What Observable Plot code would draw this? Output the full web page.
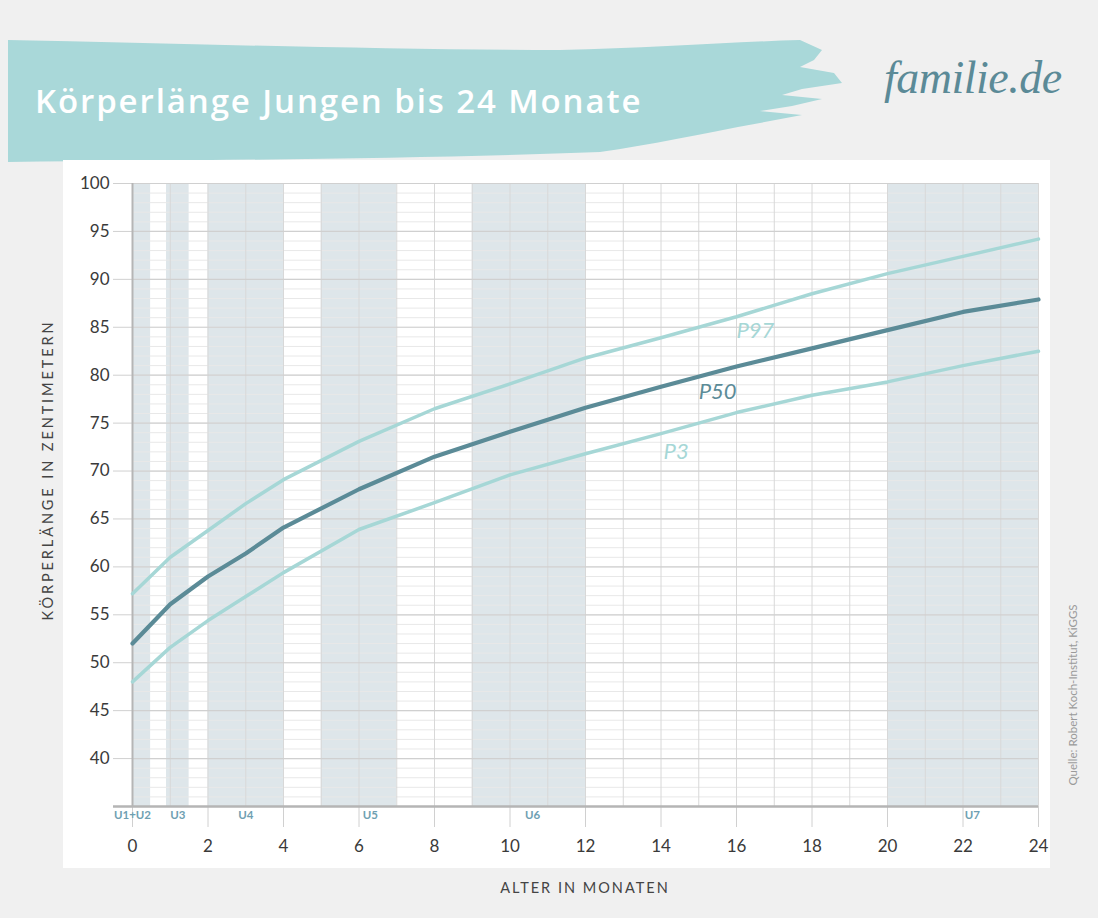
<!DOCTYPE html>
<html>
<head>
<meta charset="utf-8">
<script src="https://cdn.jsdelivr.net/npm/d3@7"></script>
<script src="https://cdn.jsdelivr.net/npm/@observablehq/plot@0.6"></script>
<style>
  html, body { margin: 0; padding: 0; background: #f0f0f0; }
  #page { position: relative; width: 1098px; height: 918px; overflow: hidden; background: #f0f0f0; font-family: Lato, "Open Sans", sans-serif; }
  #banner { position: absolute; left: 0; top: 0; }
  #title { position: absolute; left: 35px; top: 79px; font-family: "Open Sans", sans-serif; font-weight: 600; font-size: 33px; line-height: 44px; letter-spacing: 1.9px; color: #ffffff; white-space: nowrap; }
  #logo { position: absolute; left: 884px; top: 50px; font-family: "Liberation Serif", serif; font-style: italic; font-weight: normal; font-size: 46px; line-height: 56px; color: #5b8a97; letter-spacing: -0.5px; white-space: nowrap; }
  #panel { position: absolute; left: 63px; top: 160px; width: 987px; height: 708px; background: #ffffff; }
  #chart { position: absolute; left: 0; top: 0; }
  #ylabel { position: absolute; left: 47px; top: 470px; transform: translate(-50%, -50%) rotate(-90deg); font-size: 14.5px; letter-spacing: 2.9px; color: #444; white-space: nowrap; }
  #xlabel { position: absolute; left: 585px; top: 887px; transform: translate(-50%, -50%); font-size: 14.5px; letter-spacing: 2px; color: #444; white-space: nowrap; }
  #source { position: absolute; left: 1072px; top: 695px; transform: translate(-50%, -50%) rotate(-90deg); font-size: 11.5px; color: #9a9a9a; white-space: nowrap; }
</style>
</head>
<body>
<div id="page">
  <svg id="banner" width="1098" height="180">
    <path d="M8,40 C200,44 400,50 560,50 C650,48 730,42 800,40 L822,50 L814,60 L800,67 L834,73 L842,83 L802,89 L782,95 L822,99 L792,106 L760,111 L802,115 L760,123 C700,134 650,145 600,152 C450,158 250,160 8,162 Z" fill="#a9d8d9"/>
  </svg>
  <div id="title">Körperlänge Jungen bis 24 Monate</div>
  <div id="logo">familie.de</div>
  <div id="panel"></div>
  <div id="chart"></div>
  <div id="ylabel">KÖRPERLÄNGE IN ZENTIMETERN</div>
  <div id="xlabel">ALTER IN MONATEN</div>
  <div id="source">Quelle: Robert Koch-Institut, KiGGS</div>
</div>
<script>
// Age in months
const months = [0, 1, 2, 3, 4, 6, 8, 10, 12, 14, 16, 18, 20, 22, 24];
// Percentile body lengths (cm)
const p3  = [48.0, 51.6, 54.4, 56.9, 59.4, 63.9, 66.7, 69.6, 71.8, 73.9, 76.1, 77.9, 79.3, 81.0, 82.5];
const p50 = [52.0, 56.1, 59.0, 61.4, 64.1, 68.1, 71.5, 74.1, 76.6, 78.8, 80.9, 82.8, 84.7, 86.6, 87.9];
const p97 = [57.2, 61.0, 63.8, 66.6, 69.1, 73.1, 76.5, 79.1, 81.8, 83.9, 86.1, 88.5, 90.6, 92.4, 94.2];

// U-examination periods (months)
const uNames = ["U1+U2", "U3", "U4", "U5", "U6", "U7"];
const uStart = [0, 0.9, 2, 5, 9, 20];
const uEnd   = [0.48, 1.5, 4, 7, 12, 24];
const uLabelX = [0, 1.2, 3, 6.3, 10.6, 22.25];

// Percentile labels
const pNames = ["P97", "P50", "P3"];
const pLabelX = [16.5, 15.5, 14.4];
const pLabelY = [84.6, 78.2, 72.0];

const xTicks = d3.range(0, 25, 2);
const xGrid = d3.range(0, 25, 1);
const yTicks = d3.range(40, 101, 5);
const yMinor = d3.range(36, 101, 1);

const bands = uNames.map((n, i) => ({name: n, x1: uStart[i], x2: uEnd[i], lx: uLabelX[i]}));
const series = [];
months.forEach((m, i) => {
  series.push({month: m, value: p3[i], key: "P3"});
  series.push({month: m, value: p97[i], key: "P97"});
  series.push({month: m, value: p50[i], key: "P50"});
});
const pLabels = pNames.map((n, i) => ({name: n, x: pLabelX[i], y: pLabelY[i]}));

const chart = Plot.plot({
  width: 1098,
  height: 918,
  marginLeft: 132,
  marginRight: 60,
  marginTop: 183,
  marginBottom: 112,
  x: {domain: [0, 24]},
  y: {domain: [35, 100]},
  style: {background: "transparent", fontFamily: "Lato, 'Open Sans', sans-serif", color: "#444"},
  marks: [
    Plot.rect(bands, {x1: "x1", x2: "x2", fill: "#dee6ea"}),
    Plot.gridY({ticks: yMinor, stroke: "#e8e8e8", strokeOpacity: 1, strokeWidth: 1}),
    Plot.gridX({ticks: xGrid, stroke: "#d8d8d8", strokeOpacity: 1, strokeWidth: 1}),
    Plot.gridY({ticks: yTicks, stroke: "#d0d0d0", strokeOpacity: 1, strokeWidth: 1.2}),
    Plot.axisY({ticks: yTicks, tickSize: 19, tickPadding: 4, stroke: "#d0d0d0", fill: "#3a3a3a", fontSize: 17, label: null}),
    Plot.axisX({ticks: xTicks, tickSize: 21, tickPadding: 12, stroke: "#d0d0d0", fill: "#3a3a3a", fontSize: 17, label: null}),
    Plot.ruleX([0], {stroke: "#b5b5b5", strokeWidth: 2}),
    Plot.ruleY([35], {stroke: "#b5b5b5", strokeWidth: 2.5, insetLeft: -19}),
    Plot.line(series.filter(d => d.key !== "P50"), {x: "month", y: "value", z: "key", stroke: "#a6d7d6", strokeWidth: 3.5}),
    Plot.line(series.filter(d => d.key === "P50"), {x: "month", y: "value", stroke: "#5b8b97", strokeWidth: 4.2}),
    Plot.text(bands, {x: "lx", text: "name", frameAnchor: "bottom", dy: 12, fill: "#6f9fb2", fontWeight: "bold", fontSize: 11.5}),
    Plot.text(pLabels, {x: "x", y: "y", text: "name", fontSize: 22, fontStyle: "italic",
      fill: d => d.name === "P50" ? "#5b8b97" : "#a6d7d6",
      fontWeight: d => d.name === "P50" ? "bold" : "normal"})
  ]
});
document.getElementById("chart").appendChild(chart);
</script>
</body>
</html>
